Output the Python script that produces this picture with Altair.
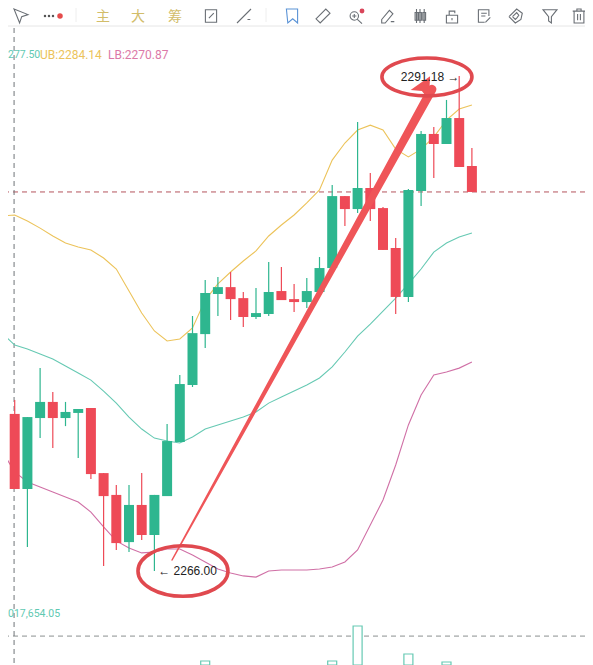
import altair as alt
import pandas as pd

opens = [2273.93,2273.99,2270.17,2273.78,2274.60,2273.78,2274.04,2274.29,2270.98,2269.87,2267.47,2269.36,2267.83,2269.81,2272.56,2275.46,2278.05,2280.09,2280.44,2279.88,2278.92,2279.07,2280.24,2279.83,2279.68,2280.19,2281.41,2285.07,2284.41,2285.48,2284.46,2282.43,2279.94,2285.33,2288.23,2287.72,2289.04,2286.60]
closes = [2275.71,2270.17,2273.83,2274.60,2273.78,2274.09,2274.24,2270.93,2269.81,2267.42,2269.36,2267.83,2269.87,2272.61,2275.51,2278.10,2280.14,2280.44,2279.83,2278.92,2279.12,2280.19,2279.78,2279.68,2280.24,2281.41,2285.07,2284.41,2285.48,2284.41,2282.33,2279.94,2285.38,2288.23,2287.72,2289.04,2286.55,2285.28]
highs = [2275.87,2274.70,2273.83,2276.32,2275.10,2274.60,2274.24,2274.29,2270.98,2270.37,2270.37,2270.98,2269.87,2273.48,2275.97,2278.97,2280.80,2280.95,2281.21,2280.19,2280.39,2281.72,2281.46,2280.60,2280.90,2281.97,2285.63,2285.07,2288.84,2286.24,2284.51,2282.94,2285.43,2288.38,2288.58,2289.96,2291.18,2287.51]
lows = [2273.93,2270.17,2267.22,2272.76,2272.26,2273.37,2271.75,2270.68,2266.25,2267.07,2266.97,2267.58,2266.00,2269.81,2272.56,2275.36,2277.34,2278.97,2278.77,2278.41,2278.82,2278.97,2279.78,2279.17,2279.38,2280.19,2281.41,2283.55,2284.21,2283.80,2282.33,2279.07,2279.68,2284.56,2285.99,2287.72,2286.55,2285.28]
ub = [2284.06,2284.11,2283.80,2283.44,2283.04,2282.68,2282.48,2282.33,2281.92,2281.36,2280.24,2279.12,2278.21,2277.70,2277.80,2278.36,2279.78,2280.60,2281.21,2281.77,2282.28,2283.04,2283.60,2284.11,2284.72,2285.38,2286.90,2287.77,2288.43,2288.68,2288.43,2287.46,2287.06,2287.46,2288.07,2288.94,2289.50,2289.70]
mb = [2278.10,2277.49,2277.29,2277.04,2276.78,2276.43,2276.07,2275.71,2275.15,2274.54,2273.83,2273.22,2272.76,2272.61,2272.51,2272.82,2273.22,2273.43,2273.63,2273.83,2274.09,2274.54,2274.85,2275.15,2275.46,2275.82,2276.38,2277.14,2277.95,2278.56,2279.22,2279.88,2280.60,2281.36,2282.22,2282.68,2282.99,2283.19]
lb = [2272.10,2271.04,2270.53,2270.27,2270.02,2269.76,2269.51,2269.00,2268.24,2267.53,2267.17,2266.92,2266.97,2267.12,2267.12,2266.81,2266.46,2266.10,2265.90,2265.75,2265.69,2266.00,2266.05,2266.05,2266.05,2266.10,2266.20,2266.46,2267.07,2268.34,2269.61,2271.39,2273.43,2274.95,2275.97,2276.12,2276.32,2276.63]
vol_idx = [16, 26, 28, 32, 35]
vol_val = [400, 400, 3900, 1100, 300]
last_price = 2285.28
vol_ref = 2262.69
high_label = "2291.18 →"
low_label = "← 2266.00"
legend = [("277.50", 0, 10.5, "#5fc9b2"), ("UB:2284.14", 32, 12, "#ecc35a"), ("LB:2270.87", 100, 12, "#dc79a8")]
vol_label = "017,654.05"

GREEN, RED = "#2eb68f", "#ee4a57"
ARROW = "#ef5558"
W, H = 577, 657
xs = alt.Scale(domain=[0.472, 45.906], range=[0, W], nice=False, zero=False, padding=0)
ys = alt.Scale(domain=[2261.219, 2294.637], range=[H, 0], nice=False, zero=False, padding=0)
X = alt.X("i:Q", scale=xs, axis=None)
Y = alt.Y("p:Q", scale=ys, axis=None)

df = pd.DataFrame(dict(i=range(38), o=opens, c=closes, h=highs, l=lows, ub=ub, mb=mb, lb=lb))
df["top"] = df[["o", "c"]].max(axis=1)
df["bot"] = df[["o", "c"]].min(axis=1)
df["col"] = [GREEN if c >= o else RED for o, c in zip(opens, closes)]
df.loc[[0, 12], "col"] = [RED, GREEN]
color = alt.Color("col:N", scale=None)

layers = []

def hrule(value, col, dash, w=1):
    return alt.Chart(pd.DataFrame({"p": [value]})).mark_rule(color=col, strokeDash=dash, strokeWidth=w).encode(y=Y)

# grid / crosshair
layers.append(hrule(vol_ref, "#8a8f8f", [5, 4]))
layers.append(hrule(last_price, "#b5545c", [5, 4]))
layers.append(alt.Chart(pd.DataFrame({"i": [0.95]})).mark_rule(color="#6f7378", strokeDash=[5, 4], strokeWidth=1).encode(x=X, y=alt.value(20), y2=alt.value(H)))

# bands
for name, col in (("ub", "#ecc35a"), ("mb", "#66c9b3"), ("lb", "#d070a6")):
    layers.append(alt.Chart(df).mark_line(color=col, strokeWidth=1.1, clip=True).encode(x=X, y=alt.Y(f"{name}:Q", scale=ys, axis=None)))

# candles
layers.append(alt.Chart(df).mark_rule(strokeWidth=1.2, clip=True).encode(x=X, y=alt.Y("h:Q", scale=ys, axis=None), y2="l:Q", color=color))
layers.append(alt.Chart(df).mark_bar(size=10, clip=True).encode(x=X, y=alt.Y("top:Q", scale=ys, axis=None), y2="bot:Q", color=color))

# volume
vdf = pd.DataFrame({"i": vol_idx, "v": vol_val})
vol = alt.Chart(vdf).mark_bar(size=9, fill="white", stroke="#66c9b3", strokeWidth=1.2).encode(
    x=X, y=alt.Y("v:Q", scale=alt.Scale(domain=[0, 65700], range=[H, 0], nice=False), axis=None), y2=alt.datum(0))
layers.append(vol)

# arrow
adf = pd.DataFrame({"i": [13.39, 33.85], "p": [2266.56, 2290.50], "w": [1, 8]})
layers.append(alt.Chart(adf).mark_trail(color=ARROW).encode(x=X, y=Y, size=alt.Size("w:Q", scale=alt.Scale(domain=[1, 8], range=[1.5, 9]), legend=None)))
head = "M0,-1.1 L0.95,0.85 L0,0.45 L-0.95,0.85 Z"
layers.append(alt.Chart(pd.DataFrame({"i": [33.25], "p": [2290.63]})).mark_point(shape=head, size=484, filled=True, color=ARROW, opacity=1, angle=28.7).encode(x=X, y=Y))

# ellipses
for shape, size, i, p in (("M-1,0 A1,0.42 0 1,1 1,0 A1,0.42 0 1,1 -1,0 Z", 8100, 33.46, 2291.13),
                          ("M-1,0 A1,0.56 0 1,1 1,0 A1,0.56 0 1,1 -1,0 Z", 8100, 14.25, 2266.0)):
    layers.append(alt.Chart(pd.DataFrame({"i": [i], "p": [p]})).mark_point(shape=shape, size=size, filled=False, stroke="#e0494f", strokeWidth=3.6, opacity=1).encode(x=X, y=Y))

# price labels
LABEL_FONT = "Liberation Sans"
layers.append(alt.Chart(pd.DataFrame({"i": [31.4], "p": [2291.13], "t": [high_label]})).mark_text(align="left", baseline="middle", fontSize=12, font=LABEL_FONT, color="#222").encode(x=X, y=Y, text="t:N"))
layers.append(alt.Chart(pd.DataFrame({"i": [12.3], "p": [2266.0], "t": [low_label]})).mark_text(align="left", baseline="middle", fontSize=12, font=LABEL_FONT, color="#222").encode(x=X, y=Y, text="t:N"))

def label(t, x, y, col, size=12, font="Roboto", **kw):
    return alt.Chart(pd.DataFrame({"t": [t]})).mark_text(align="left", baseline="middle", fontSize=size, font=font, color=col, **kw).encode(x=alt.value(x), y=alt.value(y), text="t:N")

for t, x, size, col in legend:
    layers.append(label(t, x, 47, col, size=size))
layers.append(label(vol_label, 0, 606, "#5fc9b2", size=10.5))

# toolbar
ICON = "#6a6f75"
layers.append(alt.Chart(pd.DataFrame({"a": [0]})).mark_rule(color="#e6e6e6").encode(x=alt.value(0), x2=alt.value(W), y=alt.value(18)))
for t, x in (("主", 88), ("大", 123), ("筹", 160)):
    layers.append(label(t, x, 9, "#d2bd6a", size=14, font="Noto Sans CJK SC"))

paths = {
    "cursor": "M-1,-1 L1,-0.2 L0.1,0.1 L-0.2,1 Z",
    "note": "M-0.8,-0.9 L0.8,-0.9 L0.8,0.9 L-0.8,0.9 Z M-0.3,0.3 L0.4,-0.4",
    "line": "M-1,1 L1,-1 M0.5,0.5 L0.9,0.5",
    "book": "M-0.8,-1 L0.8,-1 L0.8,1 L0.1,0.4 L-0.6,1 Z",
    "ruler": "M-1,0.4 L0.4,-1 L1,-0.4 L-0.4,1 Z",
    "zoom": "M0.5,0 A0.6,0.6 0 1,1 -0.7,0 A0.6,0.6 0 1,1 0.5,0 M0.3,0.45 L1,1.1 M-0.4,0 L0.2,0 M-0.1,-0.3 L-0.1,0.3",
    "pen": "M-0.9,0.5 L0.2,-0.8 L0.7,-0.3 L-0.4,1 L-0.9,1 Z M0.4,0.8 L0.9,0.8",
    "candles": "M-0.7,-0.5 L-0.3,-0.5 L-0.3,0.6 L-0.7,0.6 Z M-0.2,-0.5 L0.2,-0.5 L0.2,0.6 L-0.2,0.6 Z M0.4,-0.5 L0.8,-0.5 L0.8,0.6 L0.4,0.6 Z M-0.5,-1 L-0.5,1 M0,-1 L0,1 M0.6,-1 L0.6,1",
    "lock": "M-0.8,-0.1 L0.8,-0.1 L0.8,1 L-0.8,1 Z M-0.4,-0.1 L-0.4,-0.7 L0.4,-0.7 L0.4,-0.4 M0,0.3 L0,0.6",
    "doc": "M0.7,0 L0.7,-0.9 L-0.8,-0.9 L-0.8,0.9 L0.1,0.9 M-0.4,-0.4 L0.4,-0.4 M-0.4,0 L0.2,0 M0.2,0.9 L0.9,0.2",
    "magnet": "M-1,0.1 L0.1,-1 L0.9,-0.4 L0.7,0.5 L-0.1,1 L-1,0.1 M-0.5,0.1 L0.1,-0.5 L0.4,-0.1 L0.1,0.3 L-0.1,0.5 L-0.5,0.1",
    "funnel": "M-1,-0.9 L1,-0.9 L0.2,0.1 L0.2,1 L-0.2,0.7 L-0.2,0.1 Z",
    "trash": "M-0.9,-0.7 L0.9,-0.7 M-0.3,-0.7 L-0.3,-1 L0.3,-1 L0.3,-0.7 M-0.7,-0.7 L-0.7,1 L0.7,1 L0.7,-0.7 M-0.2,-0.3 L-0.2,0.6 M0.2,-0.3 L0.2,0.6",
}
toolbar = [("cursor", 13, ICON), ("note", 203, ICON), ("line", 236, ICON), ("book", 284, "#5b93d6"), ("ruler", 315, ICON),
           ("zoom", 347, ICON), ("pen", 380, ICON), ("candles", 412, ICON), ("lock", 444, ICON), ("doc", 476, ICON),
           ("magnet", 508, ICON), ("funnel", 542, ICON), ("trash", 571, ICON)]
for name, x, col in toolbar:
    layers.append(alt.Chart(pd.DataFrame({"a": [0]})).mark_point(shape=paths[name], size=196, filled=False, stroke=col, strokeWidth=1.1, opacity=1).encode(x=alt.value(x), y=alt.value(8)))

for x, col, sz, y in ((37, "#555", 6, 8), (41, "#555", 6, 8), (45, "#555", 6, 8), (52, "#e54b4b", 30, 8), (354, "#d9455a", 24, 3)):
    layers.append(alt.Chart(pd.DataFrame({"a": [0]})).mark_point(shape="circle", size=sz, filled=True, color=col, opacity=1).encode(x=alt.value(x), y=alt.value(y)))
for x in (68, 258):
    layers.append(alt.Chart(pd.DataFrame({"a": [0]})).mark_rule(color="#eeeeee").encode(x=alt.value(x), y=alt.value(0), y2=alt.value(14)))

chart = alt.layer(*layers).resolve_scale(y="independent", size="independent").properties(
    width=W, height=H, padding=0, background="white", autosize=alt.AutoSizeParams(type="none")
).configure_view(stroke=None)

chart.save("out.html", embed_options={"renderer": "svg", "actions": False})
